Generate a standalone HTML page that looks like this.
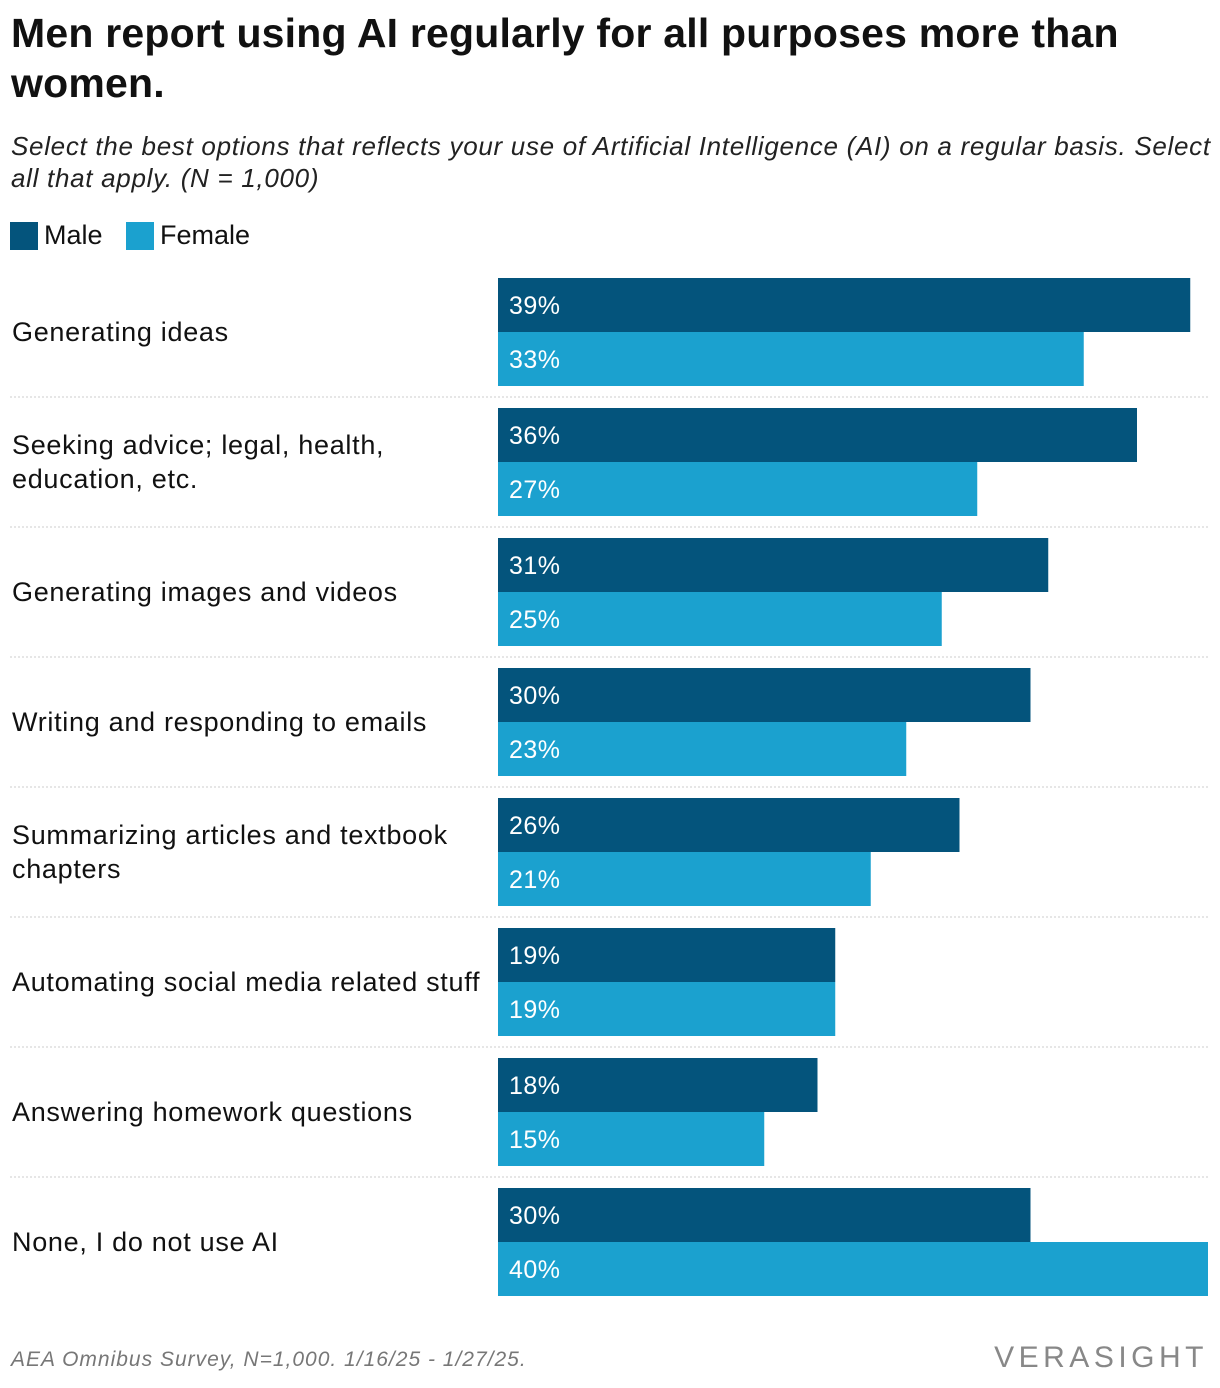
<!DOCTYPE html>
<html><head><meta charset="utf-8"><style>
body{margin:0;width:1220px;height:1388px;background:#fff;font-family:"Liberation Sans",Arial,sans-serif;position:relative;overflow:hidden;color:#111}
.t{position:absolute;left:11px;top:8px;font-size:41px;font-weight:bold;line-height:50px;width:1205px;color:#111;letter-spacing:0.2px}
.s{position:absolute;left:11px;top:130px;font-size:26px;font-style:italic;line-height:32px;width:1205px;color:#222;letter-spacing:0.7px}
.lg{position:absolute;top:220px;font-size:27px;display:flex;align-items:center}
.sw{width:28px;height:28px;display:inline-block;margin-right:6px}
.f{position:absolute;left:11px;top:1348px;font-size:21px;font-style:italic;color:#777;letter-spacing:1px}
.logo{position:absolute;right:12px;top:1341px;font-size:30px;letter-spacing:4.5px;color:#888}
</style></head><body>
<div class="t">Men report using AI regularly for all purposes more than women.</div>
<div class="s">Select the best options that reflects your use of Artificial Intelligence (AI) on a regular basis. Select all that apply. (N = 1,000)</div>
<div class="lg" style="left:10px"><span class="sw" style="background:#04547c"></span>Male</div>
<div class="lg" style="left:126px"><span class="sw" style="background:#1ba1cf"></span>Female</div>
<svg id="chart" width="1220" height="1388" style="position:absolute;left:0;top:0"></svg>
<div class="f">AEA Omnibus Survey, N=1,000. 1/16/25 - 1/27/25.</div>
<div class="logo">VERASIGHT</div>
<script>
const categories=[["Generating ideas"],["Seeking advice; legal, health,","education, etc."],["Generating images and videos"],["Writing and responding to emails"],["Summarizing articles and textbook","chapters"],["Automating social media related stuff"],["Answering homework questions"],["None, I do not use AI"]];
const male=[39,36,31,30,26,19,18,30];
const female=[33,27,25,23,21,19,15,40];
const seriesColors=["#04547c","#1ba1cf"];
const svg=document.getElementById('chart');
const NS="http://www.w3.org/2000/svg";
const x0=498,maxV=40,w=710,top0=278,pitch=130,bh=54;
const xs=v=>v/maxV*w;
function el(t,a){const e=document.createElementNS(NS,t);for(const k in a)e.setAttribute(k,a[k]);svg.appendChild(e);return e;}
categories.forEach((c,i)=>{
  const y=top0+i*pitch;
  [male[i],female[i]].forEach((v,j)=>{
    const r=el('rect',{x:x0,y:y+j*bh,width:xs(v),height:bh,fill:seriesColors[j]});
    
    
    const t=el('text',{x:x0+11,y:y+j*bh+36,fill:'#fff','font-size':25,'letter-spacing':0.5,'font-family':'Liberation Sans, sans-serif'});
    t.textContent=v+'%';
    
    
  });
  const cy=y+bh+9-(c.length-1)*17;
  c.forEach((line,k)=>{
    const t=el('text',{x:12,y:cy+k*34,fill:'#111','font-size':27,'letter-spacing':0.7,'font-family':'Liberation Sans, sans-serif'});
    t.textContent=line;
    
    
  });
  if(i<categories.length-1){
    const l=el('line',{x1:10,x2:1208,y1:y+119,y2:y+119,stroke:'#ccc','stroke-dasharray':'2,2'});
    
    
  }
});
</script>
</body></html>
